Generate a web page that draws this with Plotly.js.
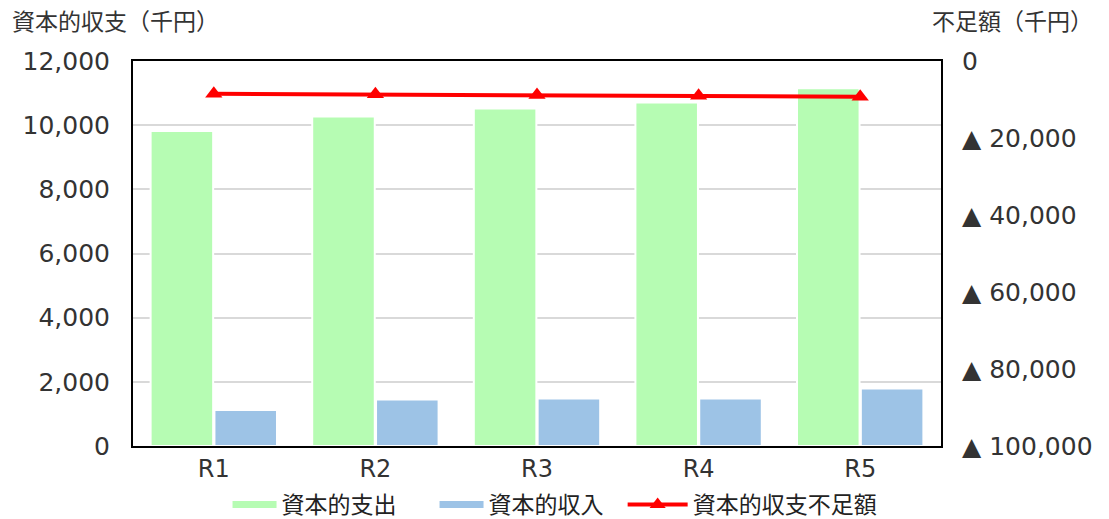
<!DOCTYPE html>
<html><head><meta charset="utf-8">
<script src="https://cdn.plot.ly/plotly-3.0.1.min.js"></script>
<style>html,body{margin:0;padding:0;background:#fff;}#chart{width:1109px;height:519px;}</style>
</head><body><div id="chart"></div>
<script>
const categories = ['R1','R2','R3','R4','R5'];
const capitalExpenditure = [9820, 10270, 10520, 10710, 11150];
const capitalRevenue = [1125, 1450, 1480, 1480, 1790];
const deficit = [8500, 8650, 8850, 9050, 9300];
const leftTicks = [0, 2000, 4000, 6000, 8000, 10000, 12000];
const leftTickText = ['0','2,000','4,000','6,000','8,000','10,000','12,000'];
const rightTicks = [0, 20000, 40000, 60000, 80000, 100000];
const rightTickText = ['0','▲ 20,000','▲ 40,000','▲ 60,000','▲ 80,000','▲ 100,000'];

const JP = '"Noto Sans CJK JP", "Noto Sans", sans-serif';
const NUM = '"DejaVu Sans", "Noto Sans", sans-serif';
const GREEN = '#b6fcb3', BLUE = '#9dc3e6', RED = '#ff0000';
const traces = [
  {type:'bar', name:'資本的支出', x:categories, y:capitalExpenditure, showlegend:false,
   marker:{color:GREEN, line:{color:'#ffffff', width:2}}},
  {type:'bar', name:'資本的収入', x:categories, y:capitalRevenue, showlegend:false,
   marker:{color:BLUE, line:{color:'#ffffff', width:2}}},
  {type:'scatter', mode:'lines+markers', name:'資本的収支不足額', x:categories, y:deficit,
   yaxis:'y2', line:{color:RED, width:4}, showlegend:false,
   marker:{symbol:'triangle-up', size:15, color:RED}},
  // legend-only entries (line swatches like the reference)
  {type:'scatter', mode:'lines', name:'資本的支出', x:[null], y:[null], line:{color:GREEN, width:7}},
  {type:'scatter', mode:'lines', name:'資本的収入', x:[null], y:[null], line:{color:BLUE, width:7}},
  {type:'scatter', mode:'lines+markers', name:'資本的収支不足額', x:[null], y:[null], yaxis:'y2',
   legend:'legend2', line:{color:RED, width:4}, marker:{symbol:'triangle-up', size:14, color:RED}}
];
const layout = {
  width:1109, height:519,
  margin:{l:133, r:168, t:61, b:73, autoexpand:false},
  paper_bgcolor:'#fff', plot_bgcolor:'#fff',
  font:{family:JP, color:'#333', size:20},
  barmode:'group', bargap:0.21, bargroupgap:0.02,
  showlegend:true,
  legend:{orientation:'h', x:0.117, xanchor:'left', y:-0.152, yanchor:'middle',
          entrywidth:148, entrywidthmode:'pixels', itemwidth:44,
          font:{size:23, color:'#222', family:JP}, traceorder:'normal'},
  legend2:{orientation:'h', x:0.606, xanchor:'left', y:-0.152, yanchor:'middle', itemwidth:60,
          font:{size:23, color:'#222', family:JP}},
  xaxis:{tickfont:{size:24, color:'#333', family:NUM}, showline:true, linecolor:'#000', linewidth:2,
         mirror:true, ticks:'', showgrid:false},
  yaxis:{range:[0,12000], tickvals:leftTicks, ticktext:leftTickText,
         tickfont:{size:25, color:'#333', family:NUM}, showgrid:true, gridcolor:'#d9d9d9', gridwidth:2,
         showline:true, linecolor:'#000', linewidth:2, mirror:true, ticks:'outside',
         ticklen:16, tickcolor:'rgba(0,0,0,0)', zeroline:false},
  yaxis2:{overlaying:'y', side:'right', range:[100000,0], tickvals:rightTicks, ticktext:rightTickText,
          tickfont:{size:25, color:'#333', family:NUM}, showgrid:false, zeroline:false,
          ticks:'outside', ticklen:15, tickcolor:'rgba(0,0,0,0)'},
  annotations:[
    {text:'資本的収支（千円）', xref:'paper', yref:'paper', x:-0.152, y:1.106, xanchor:'left', yanchor:'middle',
     showarrow:false, font:{size:23, color:'#333', family:JP}},
    {text:'不足額（千円）', xref:'paper', yref:'paper', x:1.19, y:1.106, xanchor:'right', yanchor:'middle',
     showarrow:false, font:{size:23, color:'#333', family:JP}}
  ]
};
Plotly.newPlot('chart', traces, layout, {displayModeBar:false, staticPlot:true});
</script></body></html>
